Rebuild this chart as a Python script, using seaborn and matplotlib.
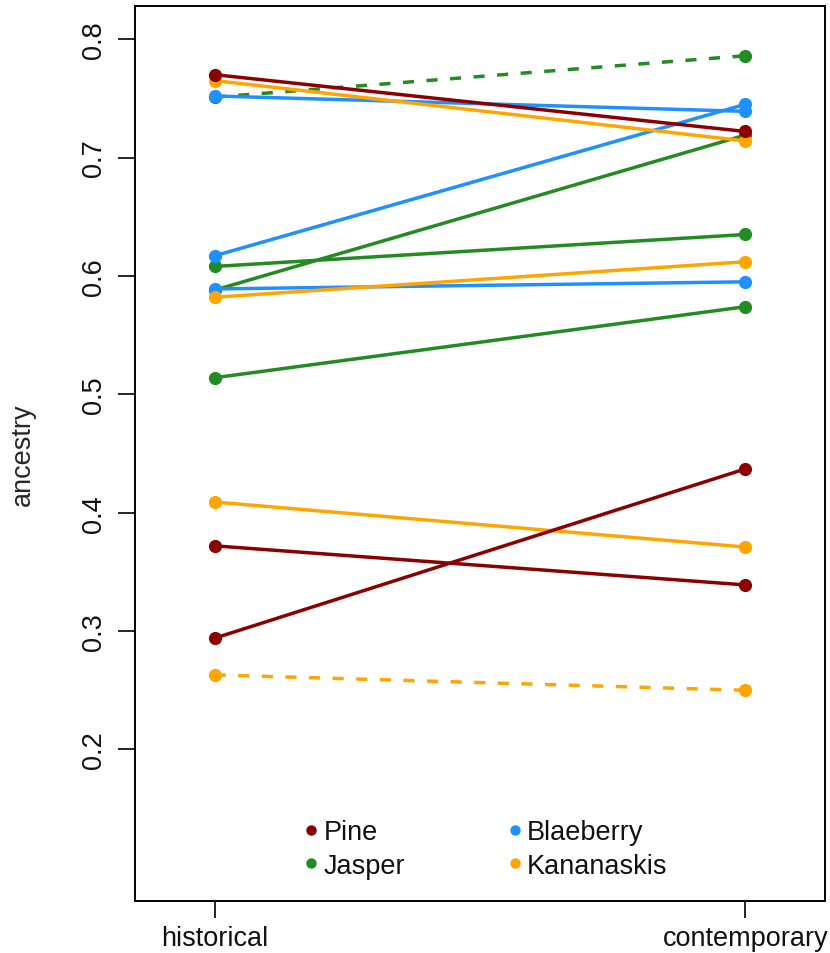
import matplotlib
matplotlib.use("Agg")
import matplotlib.pyplot as plt
from matplotlib.lines import Line2D
import seaborn as sns
import pandas as pd

sns.set_style("white")
plt.rcParams['font.family'] = ['Liberation Sans', 'DejaVu Sans']

# ---- data ----
periods = ["historical", "contemporary"]
sites = ["Pine", "Jasper", "Blaeberry", "Kananaskis"]
site_colors = ["#8B0000", "#228B22", "#1E90FF", "#FFA500"]

pair_site = ["Pine", "Pine", "Pine",
             "Kananaskis", "Kananaskis", "Kananaskis", "Kananaskis",
             "Blaeberry", "Blaeberry", "Blaeberry",
             "Jasper", "Jasper", "Jasper", "Jasper"]
historical = [0.770, 0.372, 0.294,
              0.765, 0.582, 0.409, 0.263,
              0.752, 0.617, 0.589,
              0.751, 0.608, 0.588, 0.514]
contemporary = [0.722, 0.339, 0.437,
                0.714, 0.612, 0.371, 0.250,
                0.739, 0.745, 0.595,
                0.786, 0.635, 0.719, 0.574]
pair_style = ["solid", "solid", "solid",
              "solid", "solid", "solid", "dashed",
              "solid", "solid", "solid",
              "dashed", "solid", "solid", "solid"]

rows = []
for i in range(len(pair_site)):
    for p, v in zip(periods, [historical[i], contemporary[i]]):
        rows.append({"pair": i, "site": pair_site[i], "period": p,
                     "x": periods.index(p) + 1, "ancestry": v,
                     "style": pair_style[i]})
df = pd.DataFrame(rows)

W, H = 830, 954
fig = plt.figure(figsize=(W / 100, H / 100), dpi=100)
ax = fig.add_axes([135 / W, 1 - 902 / H, (825 - 135) / W, (902 - 7) / H])

palette = dict(zip(sites, site_colors))
# draw in reverse site order so Pine ends up on top
for s in ["Jasper", "Blaeberry", "Kananaskis", "Pine"]:
    sub = df[df.site == s]
    sns.lineplot(data=sub, x="x", y="ancestry", hue="site", units="pair",
                 estimator=None, style="style",
                 dashes={"solid": "", "dashed": (3.2, 3.6)},
                 markers={"solid": "o", "dashed": "o"},
                 palette=palette, linewidth=2.5, markersize=9.5,
                 markeredgewidth=0, legend=False, ax=ax)

ax.set_xlim(0.85, 2.15)
ax.set_ylim(0.072, 0.828)
ax.set_xticks([1, 2])
ax.set_xticklabels(periods)
ax.set_yticks([0.2, 0.3, 0.4, 0.5, 0.6, 0.7, 0.8])
ax.set_yticklabels(["0.2", "0.3", "0.4", "0.5", "0.6", "0.7", "0.8"],
                   rotation=90, va="center")
ax.set_xlabel("")
ax.set_ylabel("ancestry", fontsize=19.5)
ax.yaxis.set_label_coords(-0.143, 0.5)
ax.tick_params(axis="both", which="major", length=12, width=1.2,
               color="black", labelsize=19.5, labelcolor="#111111",
               direction="out", left=True, bottom=True)
ax.tick_params(axis="y", pad=8)
ax.tick_params(axis="x", pad=5)
for sp in ax.spines.values():
    sp.set_visible(True)
    sp.set_color("black")
    sp.set_linewidth(1.4)

handles = [Line2D([], [], linestyle="none", marker="o", color=c,
                  markersize=7.5, markeredgewidth=0) for c in site_colors]
leg = ax.legend(handles, sites, ncol=2, frameon=False, fontsize=19.5,
                loc="center", bbox_to_anchor=(0.508, 0.058),
                handlelength=0.6, handletextpad=0.15, columnspacing=3.75,
                labelspacing=0.27, borderpad=0)
for t in leg.get_texts():
    t.set_color("#111111")

fig.savefig("out.png", dpi=100, facecolor="white")
